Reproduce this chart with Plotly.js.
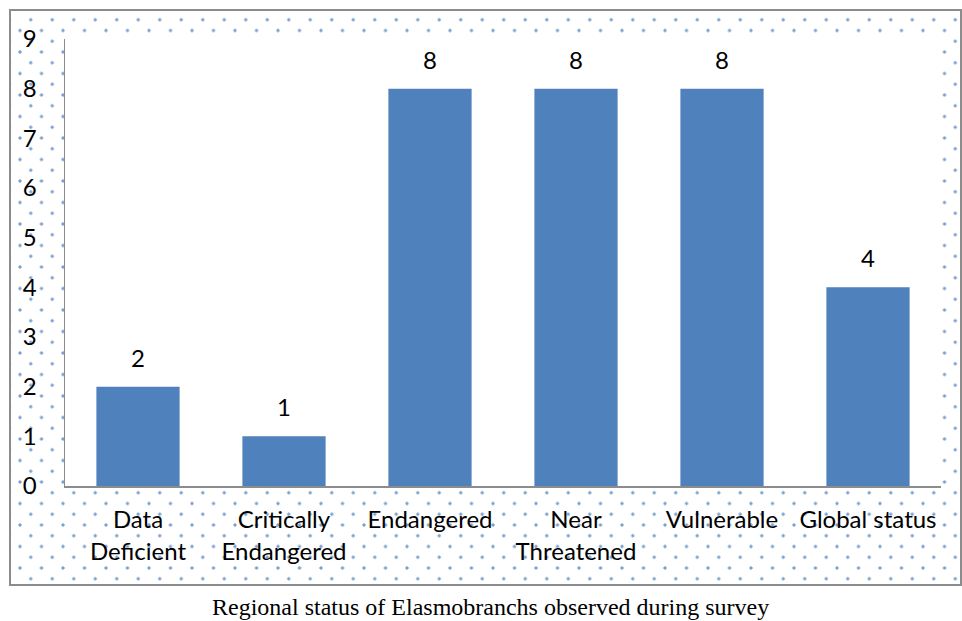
<!DOCTYPE html>
<html>
<head>
<meta charset="utf-8">
<script src="https://cdn.plot.ly/plotly-3.0.1.min.js"></script>
<style>
  html, body { margin: 0; padding: 0; background: #ffffff; }
  #wrap { position: relative; width: 962px; height: 621px; overflow: hidden; }
  #frame {
    position: absolute; left: 9px; top: 9px; width: 949px; height: 573px;
    border: 2px solid #8c8c8c;
    background-color: #ffffff;
    background-image:
      radial-gradient(circle, rgba(79,129,189,0.75) 1.3px, rgba(79,129,189,0) 1.9px),
      radial-gradient(circle, rgba(79,129,189,0.75) 1.3px, rgba(79,129,189,0) 1.9px);
    background-size: 21.5px 21.5px, 21.5px 21.5px;
    background-position: 9px -2px, 19.75px 8.75px;
  }
  #chart { position: absolute; left: 0; top: 0; width: 962px; height: 621px; }
</style>
</head>
<body>
<div id="wrap">
  <div id="frame"></div>
  <div id="chart"></div>
</div>
<script>
const categories = ["Data<br>Deficient", "Critically<br>Endangered", "Endangered", "Near<br>Threatened", "Vulnerable", "Global status"];
const counts = [2, 1, 8, 8, 8, 4];
const yTicks = [0, 1, 2, 3, 4, 5, 6, 7, 8, 9];
const caption = "Regional status of Elasmobranchs observed during survey";

const FONT = "Lato, Calibri, Carlito, sans-serif";

const trace = {
  type: "bar",
  x: categories,
  y: counts,
  marker: { color: "#4f81bd", line: { width: 0 } },
  hoverinfo: "skip"
};

const labelAnnotations = categories.map((c, i) => ({
  x: c, y: counts[i], xref: "x", yref: "y",
  text: String(counts[i]), showarrow: false,
  yanchor: "bottom", yshift: 13,
  font: { family: FONT, size: 24, color: "#000000" }
}));

const layout = {
  width: 962, height: 621,
  margin: { l: 65, r: 21, t: 39, b: 135 },
  paper_bgcolor: "rgba(0,0,0,0)",
  plot_bgcolor: "#ffffff",
  bargap: 0.43,
  showlegend: false,
  font: { family: FONT, size: 24, color: "#000000" },
  xaxis: {
    type: "category",
    showgrid: false, zeroline: false,
    showline: true, linecolor: "#8c8c8c", linewidth: 1.5,
    ticks: "", ticklabelstandoff: 12,
    tickfont: { family: FONT, size: 24, color: "#000000" }
  },
  yaxis: {
    range: [0, 9],
    tickvals: yTicks, ticktext: yTicks.map(String),
    showgrid: false, zeroline: false,
    showline: true, linecolor: "#8c8c8c", linewidth: 1.5,
    ticks: "", ticklabelstandoff: 22,
    tickfont: { family: FONT, size: 24, color: "#000000" }
  },
  annotations: labelAnnotations.concat([{
    xref: "paper", yref: "paper", x: 0.486, y: -0.271, xanchor: "center", yanchor: "middle",
    text: caption, showarrow: false,
    font: { family: "Liberation Serif, Times New Roman, serif", size: 24, color: "#000000" }
  }])
};

Plotly.newPlot("chart", [trace], layout, { displayModeBar: false, staticPlot: true });
</script>
</body>
</html>
